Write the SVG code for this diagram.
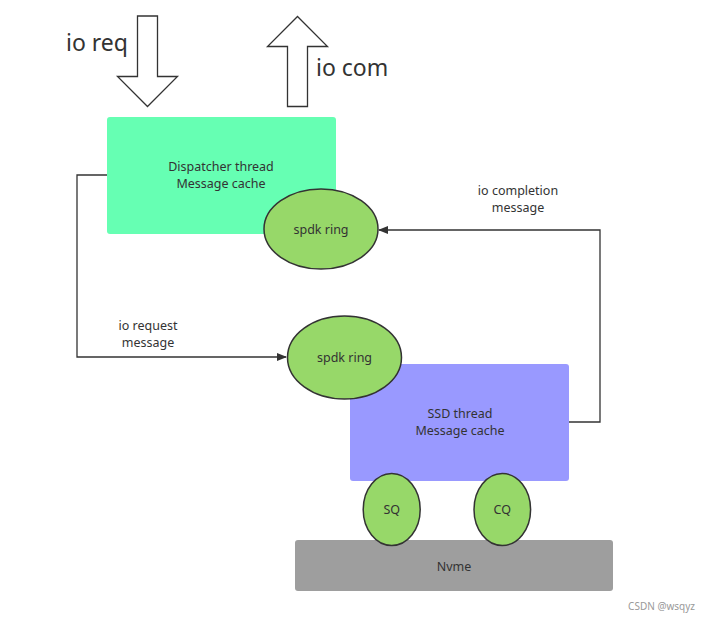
<svg xmlns="http://www.w3.org/2000/svg" width="710" height="621" viewBox="0 0 710 621">
<defs>
<style>
.t{font-family:"Noto Sans","Open Sans","Liberation Sans",sans-serif;font-size:12.5px;fill:#333;text-anchor:middle}
.big{font-family:"Noto Sans","Open Sans","Liberation Sans",sans-serif;font-size:23px;fill:#333}
.ring{fill:#97D869;stroke:#333;stroke-width:1.5}
.conn{fill:none;stroke:#333;stroke-width:1.3}
.hollow{fill:#fff;stroke:#333;stroke-width:1.3}
</style>
<marker id="ah" markerWidth="10" markerHeight="8" refX="9" refY="4" orient="auto" markerUnits="userSpaceOnUse">
<path d="M0,0 L10,4 L0,8 Z" fill="#333"/>
</marker>
</defs>
<rect width="710" height="621" fill="#fff"/>
<g id="io-req">
<path class="hollow" d="M137.5,16 H157.5 V76.5 H177.5 L147.5,106.5 L117.5,76.5 H137.5 Z"/>
<text class="big" x="66" y="51">io req</text>
</g>
<g id="io-com">
<path class="hollow" d="M287.5,106.5 H307.5 V46.5 H327.5 L297.5,16.5 L267.5,46.5 H287.5 Z"/>
<text class="big" x="316" y="76">io com</text>
</g>
<g id="connectors">
<path class="conn" d="M107,175 H77 V357 H286" marker-end="url(#ah)"/>
<path class="conn" d="M569,422 H600 V230 H379" marker-end="url(#ah)"/>
<text class="t" x="148" y="330">io request</text>
<text class="t" x="148" y="347">message</text>
<text class="t" x="518" y="195">io completion</text>
<text class="t" x="518" y="212">message</text>
</g>
<g id="dispatcher">
<rect x="107" y="117" width="229" height="117" rx="3" fill="#66FFB3"/>
<text class="t" x="221" y="171">Dispatcher thread</text>
<text class="t" x="221" y="188">Message cache</text>
</g>
<g id="ring-top">
<ellipse class="ring" cx="321" cy="229" rx="57" ry="40"/>
<text class="t" x="321" y="234">spdk ring</text>
</g>
<g id="ssd">
<rect x="350" y="364" width="219" height="117" rx="3" fill="#9999FF"/>
<text class="t" x="460" y="418">SSD thread</text>
<text class="t" x="460" y="435">Message cache</text>
</g>
<g id="ring-bottom">
<ellipse class="ring" cx="344.5" cy="357.5" rx="57" ry="41.5"/>
<text class="t" x="344.5" y="362">spdk ring</text>
</g>
<g id="nvme">
<rect x="295" y="540" width="318" height="51" rx="3" fill="#9E9E9E"/>
<text class="t" x="454" y="571">Nvme</text>
</g>
<g id="sq">
<ellipse class="ring" cx="391.7" cy="509.5" rx="28.5" ry="36"/>
<text class="t" x="391.7" y="514">SQ</text>
</g>
<g id="cq">
<ellipse class="ring" cx="502.3" cy="509.5" rx="28.3" ry="36"/>
<text class="t" x="502.3" y="514">CQ</text>
</g>
<text x="695" y="610" style="font-family:'Noto Sans','Liberation Sans',sans-serif;font-size:10px;fill:#999;text-anchor:end">CSDN @wsqyz</text>
</svg>
